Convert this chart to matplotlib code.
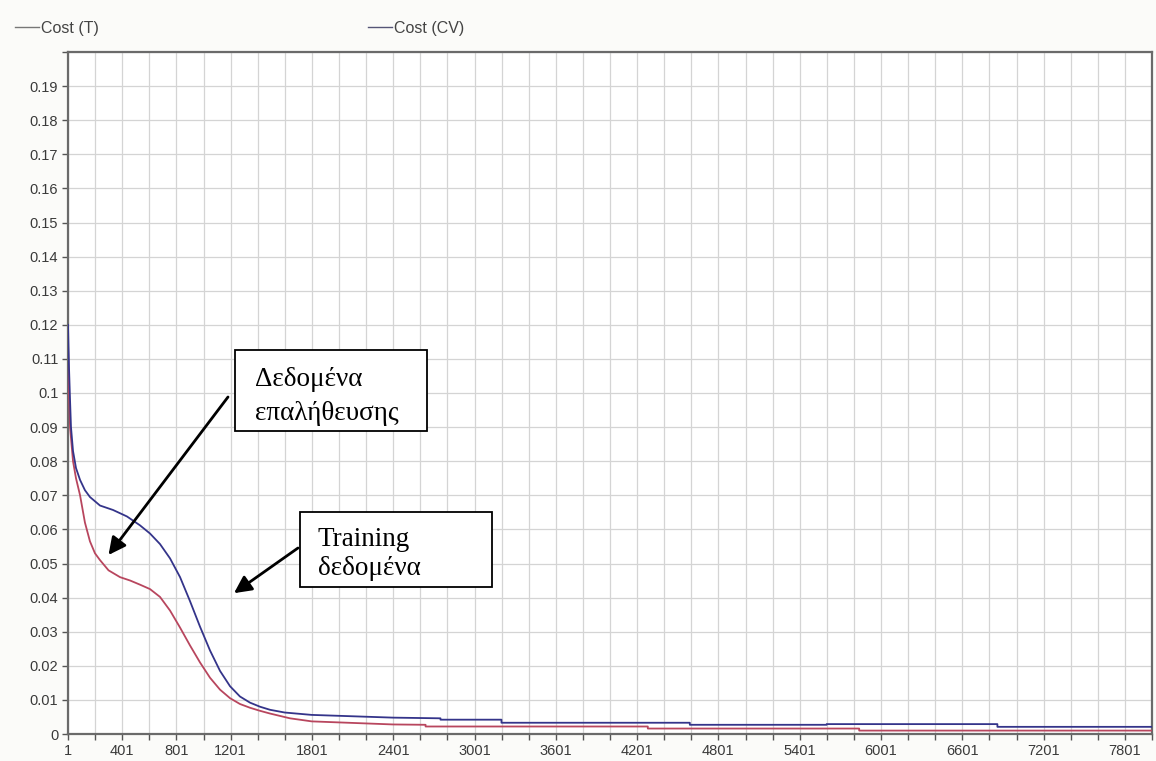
import matplotlib
matplotlib.use("Agg")
import matplotlib.pyplot as plt
from matplotlib.patches import Rectangle
from matplotlib.lines import Line2D
from matplotlib.ticker import FixedLocator, FixedFormatter

# ---- data ----
epochs_cv = [1, 8, 16, 23, 38, 60, 90, 126, 163, 237, 333, 436, 532, 606, 680, 754, 828, 901, 975,
             1049, 1123, 1197, 1270, 1344, 1418, 1492, 1600, 1800,
             2400, 2750, 2750, 3200, 3200, 4590, 4590, 5600, 5600, 6860, 6860, 8001]
cost_cv = [0.120, 0.108, 0.098, 0.090, 0.083, 0.078, 0.0745, 0.0715, 0.0695, 0.067, 0.0657, 0.0638,
           0.0612, 0.0588, 0.0557, 0.0515, 0.046, 0.039, 0.0315, 0.0245, 0.0185, 0.014, 0.011,
           0.0092, 0.008, 0.0071, 0.0063, 0.0056,
           0.0048, 0.0046, 0.0042, 0.0042, 0.0033, 0.0033, 0.0027, 0.0027, 0.0029, 0.0029,
           0.0021, 0.0021]

epochs_t = [1, 8, 16, 38, 60, 90, 126, 163, 200, 237, 300, 385, 460, 532, 606, 680, 754, 828, 901,
            975, 1049, 1123, 1197, 1270, 1344, 1418, 1492, 1639, 1800,
            2400, 2640, 2640, 4280, 4280, 5840, 5840, 8001]
cost_t = [0.115, 0.100, 0.090, 0.080, 0.075, 0.070, 0.062, 0.0565, 0.053, 0.051, 0.048, 0.046,
          0.045, 0.0438, 0.0425, 0.0402, 0.0362, 0.0312, 0.026, 0.021, 0.0165, 0.013, 0.0105,
          0.0088, 0.0077, 0.0068, 0.006, 0.0046, 0.0037,
          0.0028, 0.0027, 0.0022, 0.0022, 0.0016, 0.0016, 0.0010, 0.0010]

x_tick_labels = ["1", "401", "801", "1201", "1801", "2401", "3001", "3601", "4201",
                 "4801", "5401", "6001", "6601", "7201", "7801"]
series_labels = ["Cost (T)", "Cost (CV)"]
note_cv = ["Δεδομένα", "επαλήθευσης"]
note_t = ["Training", "δεδομένα"]

# ---- figure ----
W, H = 1156, 761
fig = plt.figure(figsize=(W / 100, H / 100), dpi=100, facecolor="#fbfbf9")
ax = fig.add_axes([68 / W, 1 - 734 / H, (1152 - 68) / W, (734 - 52) / H])
ax.set_facecolor("white")

col_t = "#b8465e"
col_cv = "#34348a"
ax.plot(epochs_t, cost_t, color=col_t, lw=1.3, zorder=3)
ax.plot(epochs_cv, cost_cv, color=col_cv, lw=1.3, zorder=3)

ax.set_xlim(1, 8001)
ax.set_ylim(0, 0.2)

xt = list(range(1, 8002, 200))
lab_vals = [int(s) for s in x_tick_labels]
ax.xaxis.set_major_locator(FixedLocator(xt))
ax.xaxis.set_major_formatter(FixedFormatter([str(v) if v in lab_vals else "" for v in xt]))
yt = [i / 100 for i in range(0, 21)]
ax.yaxis.set_major_locator(FixedLocator(yt))
ax.yaxis.set_major_formatter(FixedFormatter(["%g" % v if v < 0.195 else "" for v in yt]))

for lbl in ax.get_xticklabels() + ax.get_yticklabels():
    lbl.set_fontfamily("Liberation Sans")
    lbl.set_fontsize(10.5)
    lbl.set_color("#3a3a3a")
ax.tick_params(axis="both", direction="out", length=4, width=1, color="#555555", pad=3)

ax.grid(True, color="#d4d4d4", lw=0.9, zorder=0)
for s in ax.spines.values():
    s.set_color("#6a6a6a")
    s.set_linewidth(1.6)

# legend (top, outside plot)
lp = dict(family="Liberation Sans", size=11.5)
fig.legend([Line2D([], [], color="#777777", lw=1)], [series_labels[0]],
           loc="center left", bbox_to_anchor=(15 / W, 1 - 28 / H), frameon=False,
           handlelength=1.5, handletextpad=0.1, prop=lp,
           labelcolor="#444444", borderaxespad=0, borderpad=0)
fig.legend([Line2D([], [], color="#555577", lw=1)], [series_labels[1]],
           loc="center left", bbox_to_anchor=(368 / W, 1 - 28 / H), frameon=False,
           handlelength=1.5, handletextpad=0.1, prop=lp,
           labelcolor="#444444", borderaxespad=0, borderpad=0)

# annotation boxes
def box(x0, y0, x1, y1):
    r = Rectangle((x0 / W, 1 - y1 / H), (x1 - x0) / W, (y1 - y0) / H, transform=fig.transFigure,
                  facecolor="white", edgecolor="black", lw=1.3, zorder=10)
    fig.add_artist(r)

def lines(x, baselines, texts):
    for yb, t in zip(baselines, texts):
        fig.text(x / W, 1 - yb / H, t, ha="left", va="baseline", family="Liberation Serif",
                 fontsize=19.5, zorder=11)

box(235, 350, 427, 431)
box(300, 512, 492, 587)
lines(255, [386, 420], note_cv)
lines(318, [546, 575], note_t)

arrow = dict(arrowstyle="-|>", color="black", lw=2, mutation_scale=26, shrinkA=0, shrinkB=0)
ax.annotate("", xy=(300, 0.0525), xycoords="data", xytext=(228 / W, 1 - 397 / H),
            textcoords="figure fraction", arrowprops=arrow, zorder=12)
ax.annotate("", xy=(1226, 0.0413), xycoords="data", xytext=(298 / W, 1 - 548 / H),
            textcoords="figure fraction", arrowprops=arrow, zorder=12)

fig.savefig("out.png", dpi=100, facecolor=fig.get_facecolor())
